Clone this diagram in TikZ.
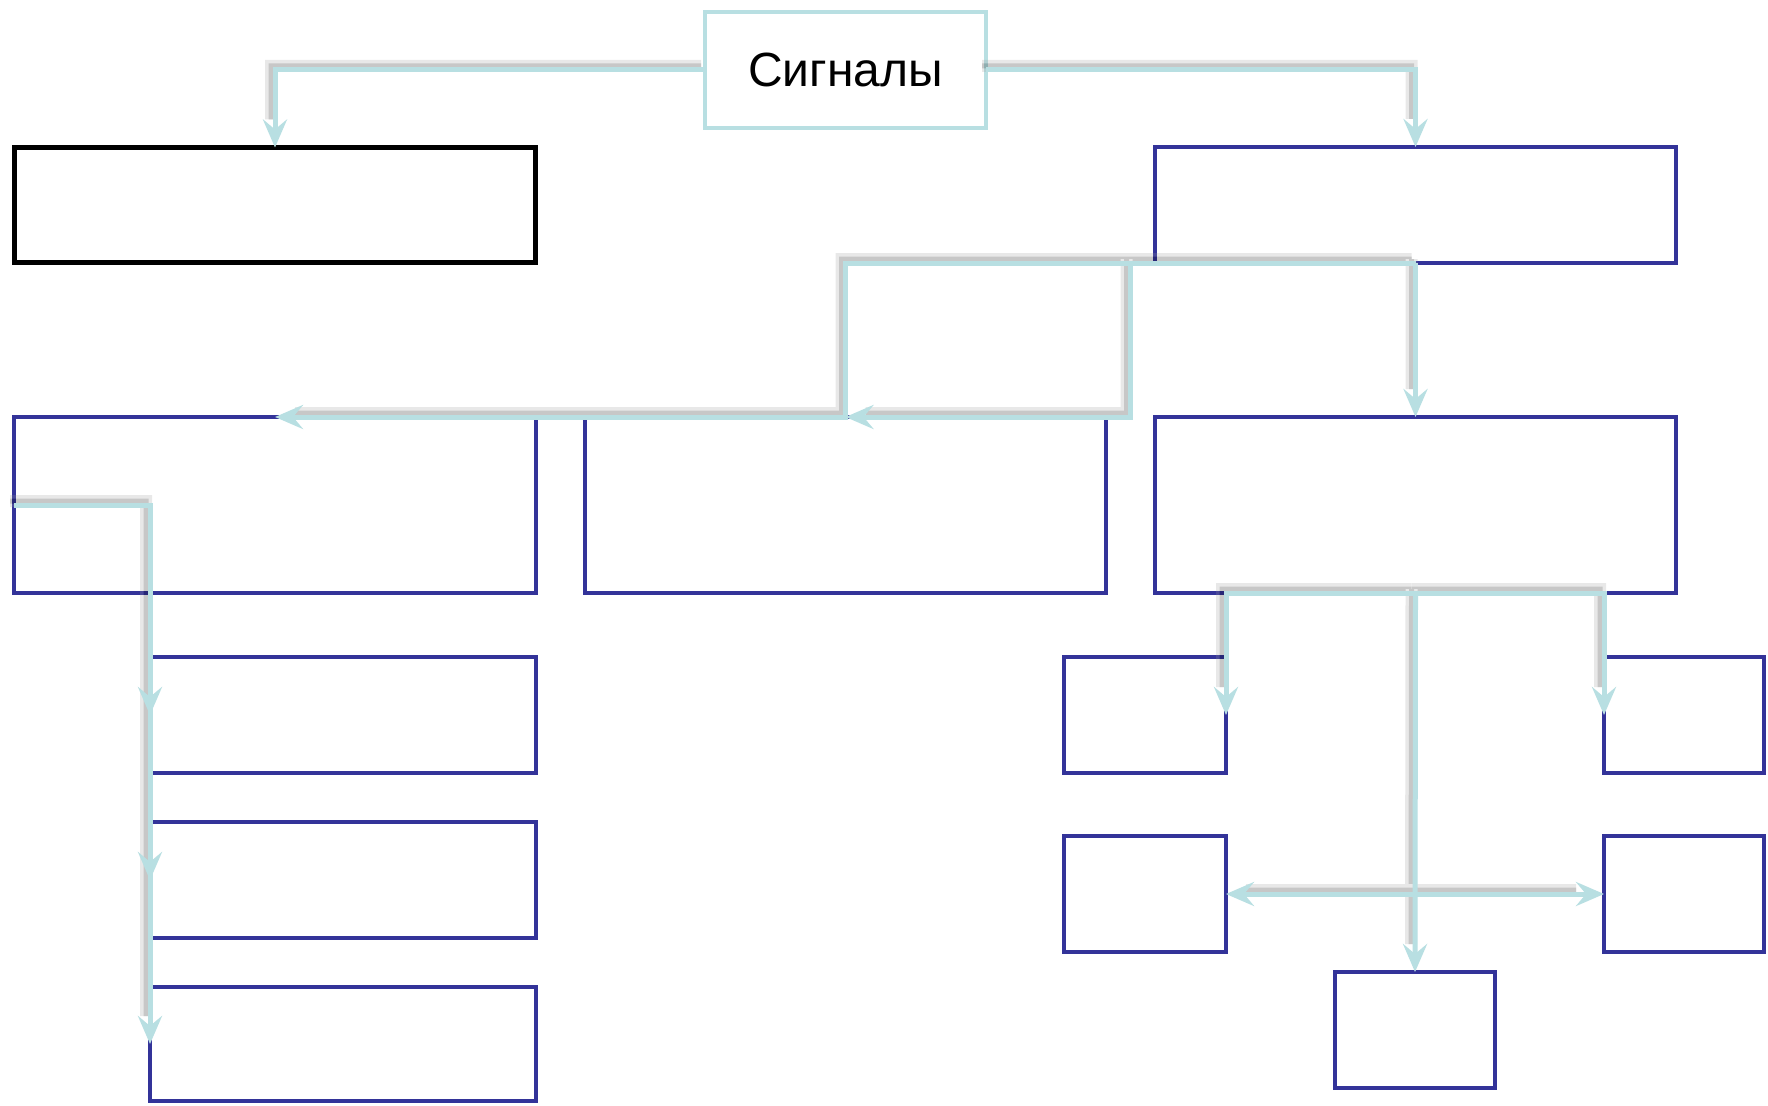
\documentclass[tikz,border=0pt]{standalone}
\usepackage{fontspec}
\setmainfont{Liberation Sans}
\usetikzlibrary{arrows.meta,calc}
\definecolor{boxblue}{RGB}{51,51,153}
\definecolor{linkc}{RGB}{184,223,226}
\tikzset{
  bluebox/.style={draw=boxblue, line width=4.5pt, inner sep=0pt, outer sep=0pt, fill=white},
  blackbox/.style={draw=black, line width=5.5pt, inner sep=0pt, outer sep=0pt, fill=white},
  sigbox/.style={draw=linkc, line width=4.5pt, inner sep=0pt, outer sep=0pt, fill=white,
    font=\fontsize{48}{54}\selectfont},
  endtip/.style={-{Stealth[length=28pt,width=24pt,inset=10pt]}},
  bothtip/.style={{Stealth[length=28pt,width=24pt,inset=10pt]}-{Stealth[length=28pt,width=24pt,inset=10pt]}},
  endsh/.style={shorten >=24pt},
  bothsh/.style={shorten >=24pt, shorten <=24pt},
  link/.style={draw=linkc, line width=5pt},
  shadA/.style={draw=black!40, line width=12pt, transform canvas={shift={(-4pt,4pt)}}},
  shadB/.style={draw=black, line width=5pt, transform canvas={shift={(-4pt,4pt)}}},
}
\newcommand\shadowpath[2]{%
  \draw[shadA,#1] #2;
  \draw[shadB,#1] #2;}
\begin{document}
\begin{tikzpicture}[x=1pt,y=-1pt]
\fill[white] (0,0) rectangle (1768,1105);
\useasboundingbox (0,0) rectangle (1768,1105);

% boxes
\node[sigbox, minimum width=281pt, minimum height=116pt] (sig) at (845.5,70) {Сигналы};
\node[blackbox, minimum width=521pt, minimum height=115pt] (blk) at (275,205) {};
\node[bluebox, minimum width=521pt, minimum height=116pt] (b3) at (1415.5,205) {};
\node[bluebox, minimum width=522pt, minimum height=176pt] (b4) at (275,505) {};
\node[bluebox, minimum width=521pt, minimum height=176pt] (b5) at (845.5,505) {};
\node[bluebox, minimum width=521pt, minimum height=176pt] (b6) at (1415.5,505) {};
\node[bluebox, minimum width=386pt, minimum height=116pt] (b7) at (343,715) {};
\node[bluebox, minimum width=386pt, minimum height=116pt] (b8) at (343,880) {};
\node[bluebox, minimum width=386pt, minimum height=114pt] (b9) at (343,1044) {};
\node[bluebox, minimum width=162pt, minimum height=116pt] (b10) at (1145,715) {};
\node[bluebox, minimum width=160pt, minimum height=116pt] (b11) at (1684,715) {};
\node[bluebox, minimum width=162pt, minimum height=116pt] (b12) at (1145,894) {};
\node[bluebox, minimum width=160pt, minimum height=116pt] (b13) at (1684,894) {};
\node[bluebox, minimum width=160pt, minimum height=116pt] (b14) at (1415,1030) {};

\coordinate (gap) at ($(b5.north east)!0.5!(b6.north west)$);

% soft shadows of the connectors
\begin{scope}[transparency group, opacity=0.22]
\shadowpath{endsh}{(sig.west) -| (blk.north)}
\shadowpath{endsh}{(sig.east) -| (b3.north)}
\shadowpath{endsh}{(b3.south) -| (b5.north) -- (b4.north)}
\shadowpath{endsh}{(b3.south -| gap) -- (gap) -- (b5.north)}
\shadowpath{endsh}{(b3.south) -- (b6.north)}
\shadowpath{endsh}{(b4.west) -| (b9.west)}
\shadowpath{endsh}{(b6.south) -| (b10.east)}
\shadowpath{endsh}{(b6.south) -| (b11.west)}
\shadowpath{endsh}{(b6.south) -- (b14.north)}
\shadowpath{bothsh}{(b12.east) -- (b13.west)}
\end{scope}

% connectors
\draw[link,endtip] (sig.west) -| (blk.north);
\draw[link,endtip] (sig.east) -| (b3.north);
\draw[link,endtip] (b3.south) -| (b5.north) -- (b4.north);
\draw[link,endtip] (b3.south -| gap) -- (gap) -- (b5.north);
\draw[link,endtip] (b3.south) -- (b6.north);
\draw[link,endtip] (b4.west) -| (b9.west);
\draw[link,endtip] ($(b7.west)+(0,-40)$) -- (b7.west);
\draw[link,endtip] ($(b8.west)+(0,-40)$) -- (b8.west);
\draw[link,endtip] (b6.south) -| (b10.east);
\draw[link,endtip] (b6.south) -| (b11.west);
\draw[link,endtip] (b6.south) -- (b14.north);
\draw[link,bothtip] (b12.east) -- (b13.west);
\end{tikzpicture}
\end{document}
